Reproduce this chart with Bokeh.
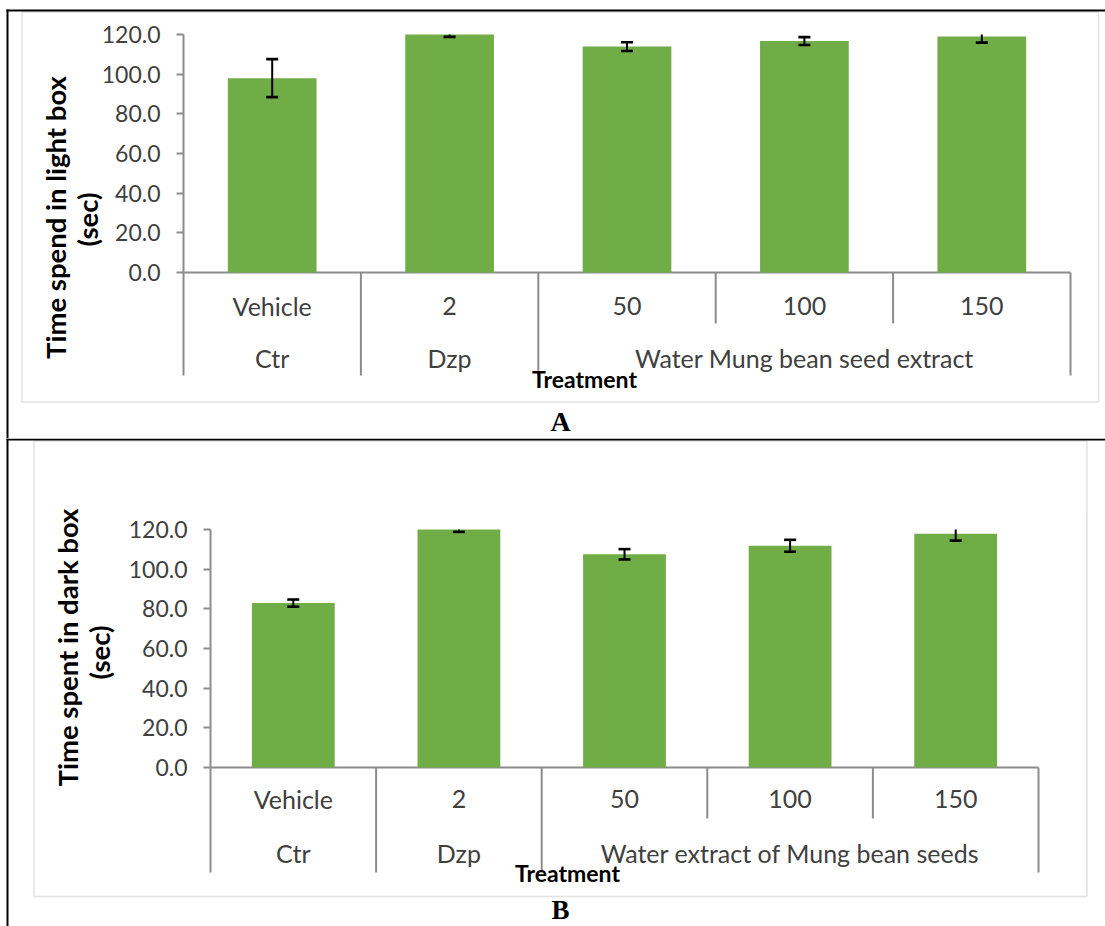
import math
from bokeh.plotting import figure
from bokeh.models import (Range1d, FixedTicker, NumeralTickFormatter, Label, BoxAnnotation)
from bokeh.layouts import column
from bokeh.core.properties import value
from bokeh.embed import file_html
from bokeh.resources import INLINE

# ---------------- data ----------------
doses = ["Vehicle", "2", "50", "100", "150"]
group_members = [["Vehicle"], ["2"], ["50", "100", "150"]]
y_ticks = [0, 20, 40, 60, 80, 100, 120]
y_max = 120

# Panel A: time spent in light box (sec)
light_groups = ["Ctr", "Dzp", "Water Mung bean seed extract"]
light_mean = [98.0, 120.3, 113.9, 116.7, 119.0]
light_err = [9.6, 1.5, 2.2, 2.0, 3.1]

# Panel B: time spent in dark box (sec)
dark_groups = ["Ctr", "Dzp", "Water extract of Mung bean seeds"]
dark_mean = [82.9, 120.5, 107.5, 111.8, 117.9]
dark_err = [1.8, 1.7, 2.6, 3.0, 3.5]

# ---------------- style ----------------
GREEN = "#70ad47"
AXIS_GRAY = "#8c8c8c"
TEXT_GRAY = "#404040"
FONT = "Lato"
W = 1105


def make_panel(letter, ylabel_lines, groups, means, errs, cfg):
    H = cfg["height"]
    n = len(doses)
    # pixel geometry -> data ranges (frame covers the whole canvas)
    ux = (cfg["right"] - cfg["left"]) / n
    uy = cfg["uy"]
    zero = cfg["zero"]
    xr = Range1d(-cfg["left"] / ux, (W - cfg["left"]) / ux)
    yr = Range1d(-(H - zero) / uy, zero / uy)
    ybot = -(cfg["bottom"] - zero) / uy

    p = figure(width=W, height=H, x_range=xr, y_range=yr,
               x_axis_location=None, y_axis_location="left",
               output_backend="svg", toolbar_location=None,
               min_border=0, min_border_left=0, min_border_right=0,
               min_border_top=0, min_border_bottom=0)
    p.outline_line_color = None
    p.background_fill_color = "white"
    p.border_fill_color = "white"
    p.grid.visible = False

    ax = p.yaxis[0]
    ax.fixed_location = 0
    ax.bounds = (ybot, y_max)
    ax.ticker = FixedTicker(ticks=y_ticks)
    ax.formatter = NumeralTickFormatter(format="0.0")
    ax.major_tick_out = 7
    ax.major_tick_in = 0
    ax.minor_tick_line_color = None
    ax.axis_line_color = AXIS_GRAY
    ax.axis_line_width = 2
    ax.major_tick_line_color = AXIS_GRAY
    ax.major_tick_line_width = 2
    ax.major_label_text_font = FONT
    ax.major_label_text_font_size = "23px"
    ax.major_label_text_color = TEXT_GRAY
    ax.major_label_standoff = 16

    xc = [i + 0.5 for i in range(n)]  # category centres

    # horizontal category axis line at y = 0
    p.segment(x0=[0], y0=[0], x1=[n], y1=[0], line_color=AXIS_GRAY, line_width=2)

    # bars (the value axis ends at y_max, like the original chart)
    tops = [min(m, y_max) for m in means]
    p.vbar(x=xc, top=tops, bottom=0, width=0.5, fill_color=GREEN, line_color=None)

    # error bars, cut at the top of the value axis
    lower = [m - e for m, e in zip(means, errs)]
    upper = [m + e for m, e in zip(means, errs)]
    p.segment(x0=xc, y0=lower, x1=xc, y1=[min(u, y_max) for u in upper],
              line_color="black", line_width=2)
    p.scatter(x=xc, y=lower, marker="dash", size=12, line_color="black", line_width=2.6)
    cap_x = [x for x, u in zip(xc, upper) if u <= y_max]
    cap_y = [u for u in upper if u <= y_max]
    p.scatter(x=cap_x, y=cap_y, marker="dash", size=12, line_color="black", line_width=2.6)

    # category separators
    bounds_idx = [0]
    for members in group_members:
        bounds_idx.append(bounds_idx[-1] + len(members))
    full_x = bounds_idx[1:]
    short_x = [i for i in range(1, n) if i not in bounds_idx]
    short_y = -(cfg["short"] - zero) / uy
    p.segment(x0=full_x, y0=[0] * len(full_x), x1=full_x, y1=[ybot] * len(full_x),
              line_color=AXIS_GRAY, line_width=2)
    p.segment(x0=short_x, y0=[0] * len(short_x), x1=short_x, y1=[short_y] * len(short_x),
              line_color=AXIS_GRAY, line_width=2)

    # category labels
    lvl1 = -(cfg["lvl1"] - zero) / uy
    lvl2 = -(cfg["lvl2"] - zero) / uy
    p.text(x=xc, y=[lvl1] * n, text=doses, text_align="center",
           text_baseline="middle", text_font=value(FONT), text_font_size="25px",
           text_color=TEXT_GRAY)
    gx = [(bounds_idx[k] + bounds_idx[k + 1]) / 2 for k in range(len(groups))]
    p.text(x=gx, y=[lvl2] * len(groups), text=groups, text_align="center",
           text_baseline="middle", text_font=value(FONT), text_font_size="25px",
           text_color=TEXT_GRAY)

    # axis titles
    for (tx, ty), line in zip(cfg["ytitle_pos"], ylabel_lines):
        p.add_layout(Label(x=tx, y=ty, x_units="canvas", y_units="canvas", text=line,
                           angle=math.pi / 2, text_align="center", text_baseline="middle",
                           text_font=FONT, text_font_style="bold", text_font_size="27.5px",
                           text_color="black"))
    tx, ty = cfg["xtitle_pos"]
    p.add_layout(Label(x=tx, y=ty, x_units="canvas", y_units="canvas", text="Treatment",
                       text_align="center", text_baseline="middle", text_font=FONT,
                       text_font_style="bold", text_font_size="23px", text_color="black"))

    # chart-area border and page frame lines
    l, r, t, b = cfg["box"]
    p.add_layout(BoxAnnotation(left=l, right=r, top=t, bottom=b,
                               left_units="canvas", right_units="canvas",
                               top_units="canvas", bottom_units="canvas",
                               fill_color=None, fill_alpha=0, line_color="#a0a0a0",
                               line_width=1.5))
    for (l, r, t, b) in cfg["black"]:
        p.add_layout(BoxAnnotation(left=l, right=r, top=t, bottom=b,
                                   left_units="canvas", right_units="canvas",
                                   top_units="canvas", bottom_units="canvas",
                                   fill_color="black", fill_alpha=1, line_color=None))

    lx, ly, lsize = cfg["letter"]
    p.add_layout(Label(x=lx, y=ly, x_units="canvas", y_units="canvas", text=letter,
                       text_align="center", text_baseline="middle",
                       text_font="Liberation Serif", text_font_style="bold",
                       text_font_size=lsize, text_color="black"))
    return p


UY = (272 - 34) / 120.0  # pixels per second on the value axis

cfgA = dict(height=438, left=183, right=1070, zero=272, uy=UY, bottom=375,
            short=323, lvl1=305, lvl2=357,
            ytitle_pos=[(55, 217), (87, 219)],
            xtitle_pos=(584, 378),
            box=(21.5, 1098, 11.5, 401.5),
            black=[(6, W, 9, 11), (6, 8, 9, 438)],
            letter=(560, 421, "28px"))

cfgB = dict(height=488, left=210, right=1038, zero=329, uy=UY, bottom=434,
            short=380, lvl1=360, lvl2=414,
            ytitle_pos=[(67, 209), (99, 214)],
            xtitle_pos=(567, 434),
            box=(33.5, 1086.5, 2.5, 458),
            black=[(6, W, 0, 2), (6, 8, 0, 488)],
            letter=(560, 471, "27px"))

pA = make_panel("A", ["Time spend in light box", "(sec)"], light_groups,
                light_mean, light_err, cfgA)
pB = make_panel("B", ["Time spent in dark box", "(sec)"], dark_groups,
                dark_mean, dark_err, cfgB)

layout = column(pA, pB, spacing=0)
open("out.html", "w").write(file_html(layout, INLINE))
